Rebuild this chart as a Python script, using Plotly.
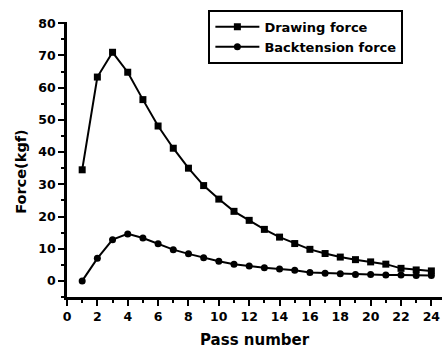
import plotly.graph_objects as go

passes = list(range(1, 25))
drawing_force = [34.5, 63.3, 71.0, 64.8, 56.3, 48.1, 41.2, 35.0, 29.6, 25.4,
                 21.6, 18.8, 16.0, 13.6, 11.6, 9.8, 8.5, 7.4, 6.6, 5.9,
                 5.2, 3.9, 3.4, 3.1]
backtension_force = [0.0, 7.0, 12.8, 14.6, 13.3, 11.5, 9.7, 8.4, 7.2, 6.1,
                     5.2, 4.6, 4.1, 3.7, 3.3, 2.6, 2.4, 2.2, 2.0, 2.0,
                     1.8, 1.8, 1.7, 1.7]
x_ticks = list(range(0, 25, 2))
y_ticks = list(range(0, 81, 10))

FONT = "DejaVu Sans, Liberation Sans, Arial, sans-serif"

fig = go.Figure()
fig.add_trace(go.Scatter(
    x=passes, y=drawing_force, name="<b>Drawing force</b>", mode="lines+markers",
    line=dict(color="black", width=2),
    marker=dict(symbol="square", size=7, color="black"),
))
fig.add_trace(go.Scatter(
    x=passes, y=backtension_force, name="<b>Backtension force</b>", mode="lines+markers",
    line=dict(color="black", width=2),
    marker=dict(symbol="circle", size=7, color="black"),
))

axis_common = dict(
    showline=True, linecolor="black", linewidth=2.5, mirror=False,
    showgrid=False, zeroline=False,
    ticks="outside", ticklen=6, tickwidth=2, tickcolor="black",
    tickfont=dict(family=FONT, size=12.5, color="black"),
)

fig.update_xaxes(
    range=[0, 24.7], tickmode="array", tickvals=x_ticks,
    ticktext=[f"<b>{v}</b>" for v in x_ticks],
    minor=dict(dtick=1, tick0=0, ticks="outside", ticklen=3, tickwidth=1.5, tickcolor="black"),
    **axis_common,
)
fig.update_yaxes(
    range=[-5, 80.4], tickmode="array", tickvals=y_ticks,
    ticktext=[f"<b>{v}</b>" for v in y_ticks],
    minor=dict(dtick=5, tick0=0, ticks="outside", ticklen=3, tickwidth=1.5, tickcolor="black"),
    **axis_common,
)

fig.add_annotation(
    text="<b>Pass number</b>", xref="paper", yref="paper", x=0.5, y=-0.155,
    xanchor="center", yanchor="middle", showarrow=False,
    font=dict(family=FONT, size=15, color="black"),
)
fig.add_annotation(
    text="<b>Force(kgf)</b>", xref="paper", yref="paper", x=-0.123, y=0.455,
    xanchor="center", yanchor="middle", showarrow=False, textangle=-90,
    font=dict(family=FONT, size=14.5, color="black"),
)

fig.update_layout(
    width=443, height=349,
    margin=dict(l=66.5, r=1.3, t=22, b=52, pad=0),
    paper_bgcolor="white", plot_bgcolor="white",
    showlegend=True,
    legend=dict(
        x=0.377, y=1.044, xanchor="left", yanchor="top",
        bgcolor="white", bordercolor="black", borderwidth=2,
        font=dict(family=FONT, size=13, color="black"),
        tracegroupgap=0, itemwidth=44,
    ),
)

fig.write_html("out.html")
